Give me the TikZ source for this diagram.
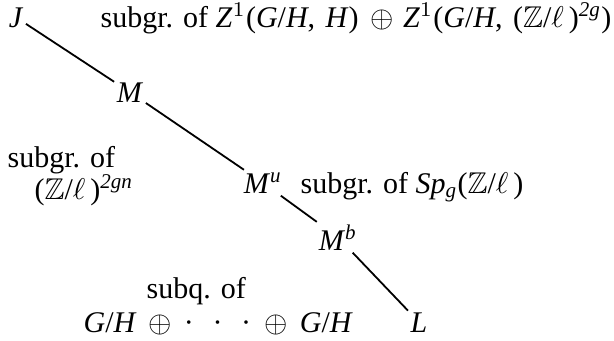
\documentclass[tikz,border=0pt]{standalone}
\usepackage{amssymb}
\usepackage{fontspec}
\setmainfont{Liberation Serif}
\usetikzlibrary{positioning}

\begin{document}
\begin{tikzpicture}[
   x=0.3333pt,y=-0.3333pt,
   every node/.style={font=\fontsize{10}{12}\selectfont},
   vert/.style={anchor=base,inner sep=0.7pt},
   lbl/.style={anchor=base west,inner sep=0pt},
   edge/.style={line width=0.6pt}]
  \useasboundingbox (0,0) rectangle (614,340);
  % the chain of groups
  \node[vert] (J) at (16,27) {\textit{J}};
  \node[vert] (M) at (130,102) {\textit{M}};
  \node[vert] (Mu) at (263,193) {\textit{M}$^{\mathit{u}}$};
  \node[vert] (Mb) at (338,250) {\textit{M}$^{\mathit{b}}$};
  \node[vert] (L) at (419,332) {\textit{L}};
  \draw[edge] (J)--(M);
  \draw[edge] (M)--(Mu);
  \draw[edge] (Mu)--(Mb);
  \draw[edge] (Mb)--(L);
  % quotients
  \node[lbl] (qJM) at (100,27) {subgr. of \textit{Z}$^1$(\textit{G}/\textit{H},\hspace{0.35em}\textit{H})\hspace{0.4em}$\oplus$\hspace{0.3em}\textit{Z}$^1$(\textit{G}/\textit{H},\hspace{0.35em}($\mathbb{Z}$/$\ell$\,)$^{\mathit{2g}}$)};
  \node[lbl] (qMMa) at (7,167) {subgr. of};
  \node[lbl] (qMMb) at (34,199) {($\mathbb{Z}$/$\ell$\,)$^{\mathit{2gn}}$};
  \node[lbl] (qMu) at (300,193) {subgr. of \textit{Sp}$_{\mathit{g}}$($\mathbb{Z}$/$\ell$\,)};
  \node[lbl] (qMba) at (146,298) {subq. of};
  \node[lbl] (qMbb) at (83,332) {\textit{G}/\textit{H}\hspace{0.4em}$\oplus$\hspace{0.4em}·\hspace{0.62em}·\hspace{0.62em}·\hspace{0.45em}$\oplus$\hspace{0.4em}\textit{G}/\textit{H}};
\end{tikzpicture}
\end{document}
